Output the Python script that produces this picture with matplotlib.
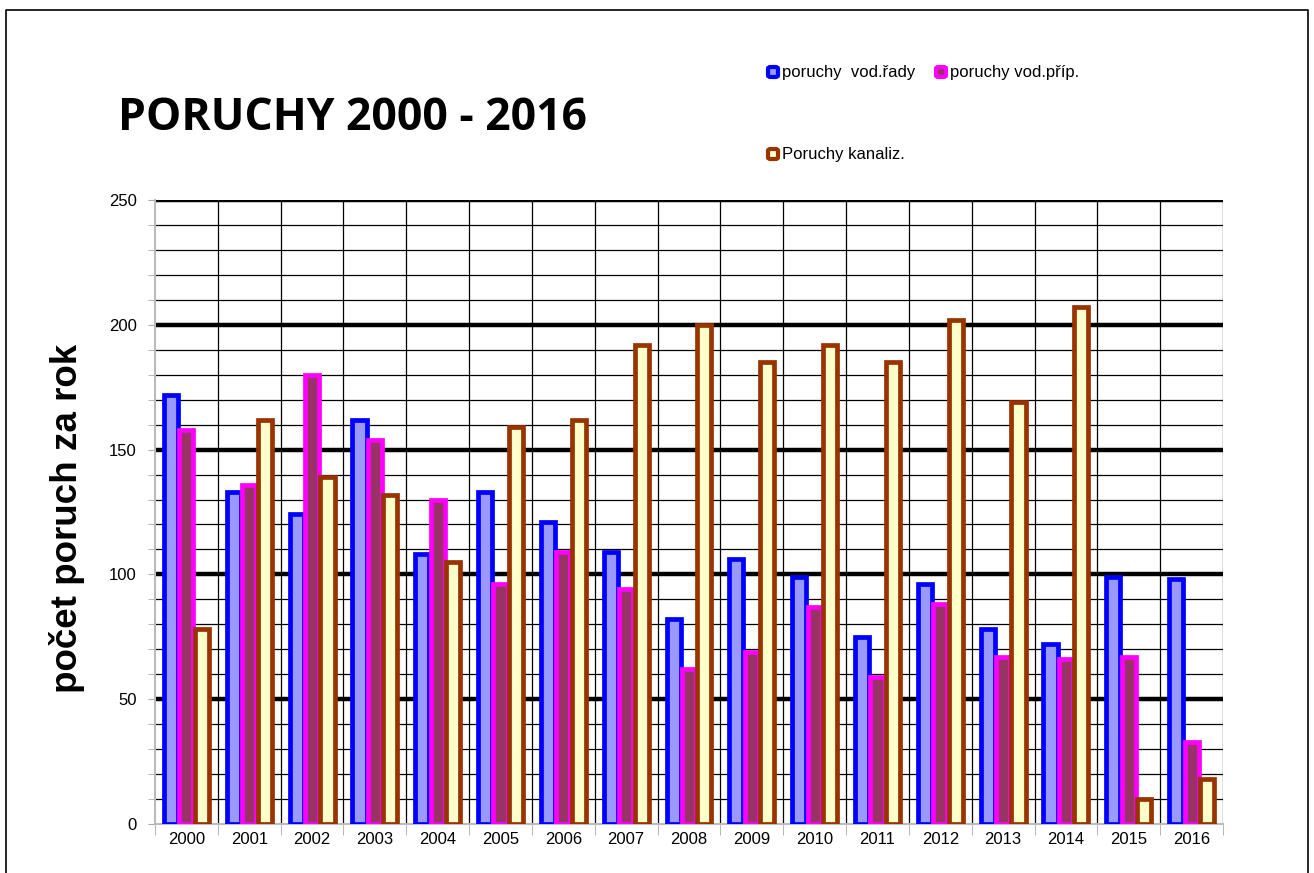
import matplotlib
matplotlib.use("Agg")
import matplotlib.pyplot as plt
from matplotlib.patches import FancyBboxPatch
from matplotlib.lines import Line2D
import numpy as np

years = ["2000", "2001", "2002", "2003", "2004", "2005", "2006", "2007", "2008",
         "2009", "2010", "2011", "2012", "2013", "2014", "2015", "2016"]
vod_rady = [172, 133, 124, 162, 108, 133, 121, 109, 82, 106, 99, 75, 96, 78, 72, 99, 98]
vod_prip = [158, 136, 180, 154, 130, 96, 109, 94, 62, 69, 87, 59, 88, 67, 66, 67, 33]
kanaliz = [78, 162, 139, 132, 105, 159, 162, 192, 200, 185, 192, 185, 202, 169, 207, 10, 18]
series_names = ["poruchy  vod.řady", "poruchy vod.příp.", "Poruchy kanaliz."]
y_ticks = [0, 50, 100, 150, 200, 250]

fig = plt.figure(figsize=(13.14, 8.73), dpi=100)
ax = fig.add_axes([155/1314, 49/873, 1068/1314, 624/873])

x = np.arange(len(years))
w = 0.225
pitch = 0.245
styles = [("#9999FF", "#0000FF"), ("#993366", "#FF00FF"), ("#FFFFCC", "#993300")]
data = [vod_rady, vod_prip, kanaliz]
for i, (vals, (fc, ec)) in enumerate(zip(data, styles)):
    ax.bar(x + (i - 1) * pitch, vals, width=w, color=fc, edgecolor=ec,
           linewidth=3.4, zorder=3, label=series_names[i])

ax.set_xlim(-0.5, len(years) - 0.5)
ax.set_ylim(0, 250)

# gridlines
for v in range(10, 251, 10):
    if v % 50 == 0:
        ax.axhline(v, color="black", lw=3.2, zorder=2)
    else:
        ax.axhline(v, color="black", lw=0.9, zorder=1)
for b in np.arange(0.5, len(years) - 0.5, 1):
    ax.axvline(b, color="black", lw=0.9, zorder=1)
ax.axvline(len(years) - 0.5, color="black", lw=0.9, zorder=1)

ax.set_yticks(y_ticks)
ax.set_yticklabels([str(t) for t in y_ticks], fontsize=12, family="Liberation Sans")
ax.set_yticks(range(0, 251, 10), minor=True)
ax.set_xticks(x)
ax.set_xticklabels(years, fontsize=12, family="Liberation Sans")
ax.tick_params(axis="x", length=0, pad=6)
ax.set_xticks(np.arange(-0.5, len(years), 1), minor=True)
ax.tick_params(axis="x", which="minor", length=8, color="#AAAAAA")
ax.tick_params(axis="y", which="both", length=5, color="#AAAAAA", pad=8)
for s in ["top", "right"]:
    ax.spines[s].set_visible(False)
ax.spines["left"].set_color("#BBBBBB")
ax.spines["bottom"].set_color("#BBBBBB")
ax.spines["left"].set_linewidth(1.5)
ax.spines["bottom"].set_linewidth(1.5)

ax.set_ylabel("počet poruch za rok", fontsize=26.5, fontweight="bold",
              family="Liberation Sans")
ax.yaxis.set_label_coords(-70/1068, 0.489)

fig.text(118/1314, 1 - 118/873, "PORUCHY 2000 - 2016", fontsize=32, fontweight="bold",
         family="Open Sans", va="center", ha="left")

# legend (manual)
leg_pos = [(773, 72), (941, 72), (773, 154)]
for (px, py), (fc, ec), name in zip(leg_pos, styles, series_names):
    fig.patches.append(FancyBboxPatch(((px - 5) / 1314, 1 - (py + 5) / 873), 10 / 1314, 10 / 873,
                                      boxstyle="round,pad=0,rounding_size=0.002",
                                      transform=fig.transFigure, facecolor=fc, edgecolor=ec,
                                      linewidth=3, figure=fig))
    fig.text((px + 9) / 1314, 1 - py / 873, name, fontsize=12, family="Liberation Sans",
             va="center", ha="left")

# outer frame
fig.lines.append(Line2D([6/1314, 6/1314, 1308/1314, 1308/1314], [0, 1 - 10/873, 1 - 10/873, 0],
                        transform=fig.transFigure, color="black", lw=1.2))

fig.savefig("out.png", dpi=100)
